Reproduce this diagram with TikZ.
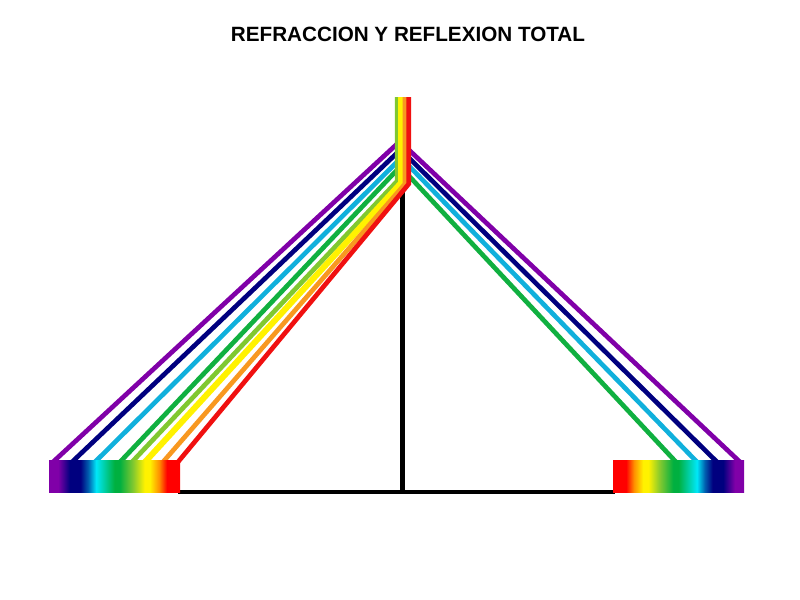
\documentclass[tikz,border=0pt]{standalone}
\usepackage{fontspec}
\setmainfont{Liberation Sans}
\definecolor{rv}{HTML}{8000A8}
\definecolor{rn}{HTML}{00007F}
\definecolor{rc}{HTML}{10B0DC}
\definecolor{rg}{HTML}{10B040}
\definecolor{rl}{HTML}{80C830}
\definecolor{ry}{HTML}{FFF200}
\definecolor{ro}{HTML}{F89820}
\definecolor{rr}{HTML}{F01010}
\definecolor{bcy}{HTML}{00E8F8}
\definecolor{bbl}{HTML}{0060B0}
\definecolor{bgr}{HTML}{00B040}
\definecolor{bre}{HTML}{FF0000}
\definecolor{bor}{HTML}{FF9000}
\pgfdeclarehorizontalshading{specbar}{100bp}{
  color(0bp)=(rv);
  color(25bp)=(rv);
  color(28.5bp)=(rv);
  color(33bp)=(rn);
  color(37bp)=(rn);
  color(40bp)=(bbl);
  color(43bp)=(bcy);
  color(50bp)=(bgr);
  color(52bp)=(bgr);
  color(57bp)=(rl);
  color(61.5bp)=(ry);
  color(63.5bp)=(ry);
  color(67bp)=(bor);
  color(70bp)=(bre);
  color(75bp)=(bre);
  color(100bp)=(bre)}
\tikzset{
  px/.style={x=0.75pt,y=-0.75pt},
  ray/.style={line width=3.5pt,line join=miter,line cap=butt},
  wideray/.style={ray,line width=4.5pt},
  axisline/.style={line width=3.2pt,black},
  floorline/.style={line width=2.3pt,black},
  titletext/.style={font=\bfseries\fontsize{15.5}{18}\selectfont,text=black,inner sep=0pt}
}
\begin{document}
\begin{tikzpicture}[px]
\useasboundingbox (0,0) rectangle (800,600);
\fill[white] (0,0) rectangle (800,600);
\node[titletext] (title) at (408,34.5) {REFRACCION Y REFLEXION TOTAL};
% reflected rays, right
\draw[ray,rg] (676,462) -- (409,176);
\draw[ray,rc] (697,462) -- (409,166);
\draw[ray,rn] (717,462) -- (409,158);
\draw[ray,rv] (740,462) -- (409,150);
% normal and floor
\draw[axisline] (402.5,190) -- (402.5,493);
\draw[floorline] (178,492) -- (615,492);
% incident rays, left
\draw[ray,rv] (53,462) -- (397,144);
\draw[ray,rn] (72,462) -- (397,153);
\draw[ray,rc] (95,462) -- (397,162);
\draw[ray,rg] (120,462) -- (397,170);
\draw[ray,rl] (132,462) -- (397.3,181) -- (397.3,97);
\draw[wideray,ry] (145,462) -- (401,183) -- (401,97);
\draw[ray,ro] (163,462) -- (405,184) -- (405,97);
\draw[ray,rr] (178,462) -- (408.7,184) -- (408.7,97);
% spectra
\path[shading=specbar] (49,460) rectangle (180,492);
\path[shading=specbar,shading angle=180] (613,460) rectangle (744,492);
\end{tikzpicture}
\end{document}
